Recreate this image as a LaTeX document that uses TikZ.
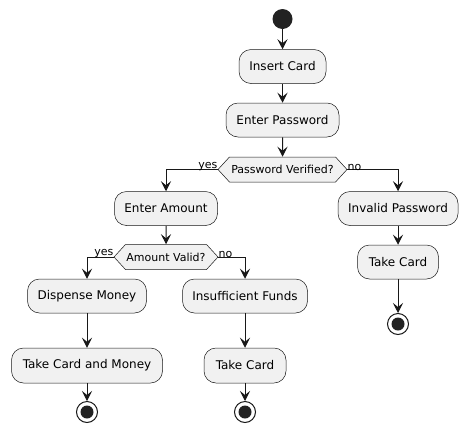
\documentclass[tikz,border=0pt]{standalone}
\usepackage{fontspec}
\setmainfont{DejaVu Sans}
\usepackage{xcolor}
\usepackage{tikz}
\usetikzlibrary{shapes.geometric, shapes.symbols, arrows, arrows.meta, positioning}
\definecolor{actfill}{HTML}{F1F1F1}
\definecolor{actline}{HTML}{181818}
\definecolor{dotfill}{HTML}{222222}

\begin{document}
\begin{tikzpicture}[x=1pt,y=-1pt,
  action/.style={draw=actline,fill=actfill,line width=0.5pt,rounded corners=12pt,
                 minimum height=34pt,inner xsep=0pt,font=\fontsize{12}{14}\selectfont},
  choice/.style={signal,signal to=west and east,signal pointer angle=95,draw=actline,
                 fill=actfill,line width=0.5pt,minimum height=25pt,inner sep=0pt,
                 font=\fontsize{11}{13}\selectfont},
  start/.style={circle,fill=dotfill,minimum size=20pt,inner sep=0pt},
  stop/.style={circle,draw=actline,fill=white,line width=1pt,minimum size=21pt,inner sep=0pt,
               path picture={\fill[dotfill] (path picture bounding box.center) circle (6.5pt);}},
  flow/.style={draw=actline,line width=1pt,-{Stealth[length=10pt,width=10pt,inset=4pt]}},
  guard/.style={font=\fontsize{11}{13}\selectfont,inner sep=0pt}
]
  \useasboundingbox (0,0) rectangle (468,434);

  \node[start] (init) at (282.5,19) {};
  \node[action,minimum width=87pt]  (insert)  at (282.5,66.5)  {Insert Card};
  \node[action,minimum width=113pt] (enterpw) at (282.5,120)   {Enter Password};
  \node[choice,minimum width=129pt] (pwok)    at (282.5,169.5) {Password Verified?};

  % yes branch
  \node[action,minimum width=103pt] (amount)  at (166,208.5) {Enter Amount};
  \node[choice,minimum width=104pt] (amtok)   at (166,257)   {Amount Valid?};
  \node[action,minimum width=119pt] (dispense) at (87,296)   {Dispense Money};
  \node[action,minimum width=151pt,minimum height=35pt] (takeboth) at (87,365.5) {Take Card and Money};
  \node[stop] (endA) at (87,412) {};
  \node[action,minimum width=125pt] (nofunds) at (245,296)   {Insufficient Funds};
  \node[action,minimum width=82pt,minimum height=35pt] (takeB) at (245,365.5) {Take Card};
  \node[stop] (endB) at (245,412) {};

  % no branch
  \node[action,minimum width=120pt] (invalid) at (398,208.5) {Invalid Password};
  \node[action,minimum width=81pt]  (takeC)   at (398,262) {Take Card};
  \node[stop] (endC) at (398,324) {};

  \draw[flow] (init) -- (insert);
  \draw[flow] (insert) -- (enterpw);
  \draw[flow] (enterpw) -- (pwok);
  \draw[flow] (pwok.west) -| (amount);
  \draw[flow] (pwok.east) -| (invalid);
  \node[guard,anchor=south east] (pwyes) at ([yshift=-1pt]pwok.west) {yes};
  \node[guard,anchor=south west] (pwno)  at ([yshift=-1pt]pwok.east) {no};

  \draw[flow] (amount) -- (amtok);
  \draw[flow] (amtok.west) -| (dispense);
  \draw[flow] (amtok.east) -| (nofunds);
  \node[guard,anchor=south east] (amtyes) at ([yshift=-1pt]amtok.west) {yes};
  \node[guard,anchor=south west] (amtno)  at ([yshift=-1pt]amtok.east) {no};

  \draw[flow] (dispense) -- (takeboth);
  \draw[flow] (takeboth) -- (endA);
  \draw[flow] (nofunds) -- (takeB);
  \draw[flow] (takeB) -- (endB);
  \draw[flow] (invalid) -- (takeC);
  \draw[flow] (takeC) -- (endC);
\end{tikzpicture}
\end{document}
